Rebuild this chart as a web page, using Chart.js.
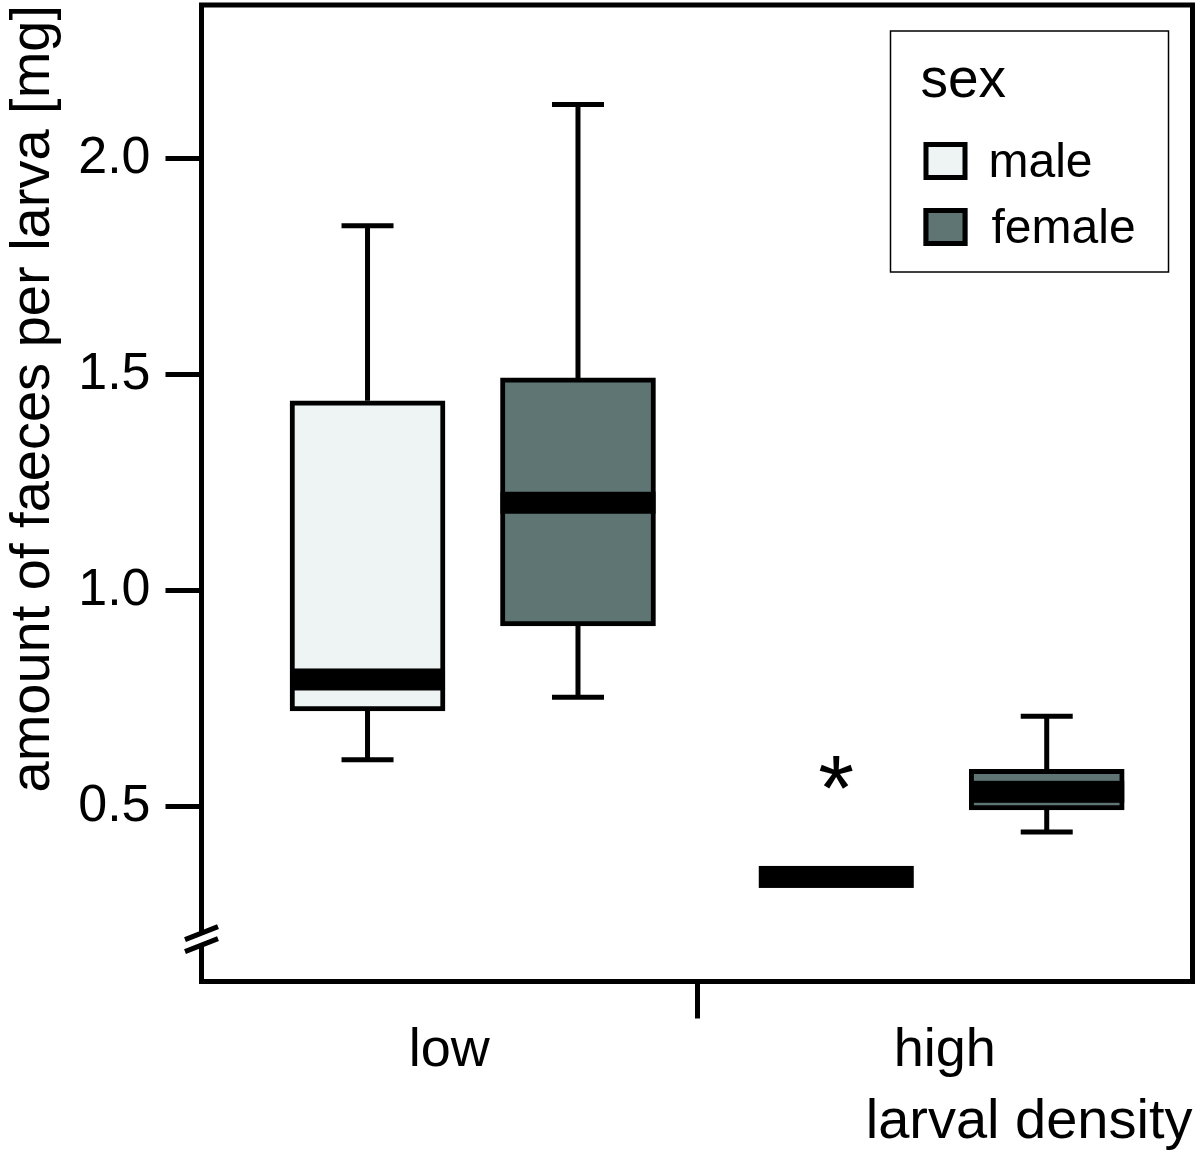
<!DOCTYPE html>
<html>
<head>
<meta charset="utf-8">
<script src="https://cdn.jsdelivr.net/npm/chart.js@4.4.0/dist/chart.umd.min.js"></script>
<style>
  html, body { margin: 0; padding: 0; background: #fff; }
</style>
</head>
<body>
<canvas id="faecesChart" width="1200" height="1156"></canvas>
<script>
const densities = ['low', 'high'];
const sexes = ['male', 'female'];

// five number summaries, one entry per density (low, high)
const maleMin = [0.608, 0.337];
const maleQ1 = [0.721, 0.337];
const maleMedian = [0.794, 0.337];
const maleQ3 = [1.439, 0.337];
const maleMax = [1.844, 0.337];

const femaleMin = [0.753, 0.441];
const femaleQ1 = [0.918, 0.492];
const femaleMedian = [1.203, 0.534];
const femaleQ3 = [1.492, 0.586];
const femaleMax = [2.125, 0.709];

// outliers as [density index, value]
const maleOutliers = [[1, 0.578]];
const femaleOutliers = [];

const yTicks = [0.5, 1.0, 1.5, 2.0];
const axisBreakAt = 0.193;

const FONT = '"Liberation Sans", Arial, Helvetica, sans-serif';
const sexColors = ['#eef4f3', '#5f7574'];
const sexOffset = [-0.2245, 0.2245];

function boxDataset(label, idx, mins, q1, med, q3, maxs, outliers) {
  return {
    label: label,
    xAxisID: 'xb',
    grouped: false,
    data: densities.map((d, i) => ({ x: i + sexOffset[idx], y: [q1[i], q3[i]] })),
    backgroundColor: sexColors[idx],
    borderColor: '#000',
    borderWidth: 5,
    borderSkipped: false,
    barThickness: 155,
    stats: { mins, med, q1, q3, maxs, outliers }
  };
}

const boxExtras = {
  id: 'boxExtras',
  beforeDatasetsDraw(chart) {
    const ctx = chart.ctx;
    const y = chart.scales.y;
    ctx.save();
    ctx.strokeStyle = '#000';
    ctx.lineWidth = 5;
    chart.data.datasets.forEach((ds, di) => {
      const s = ds.stats;
      chart.getDatasetMeta(di).data.forEach((bar, i) => {
        const x = bar.x;
        const pairs = [[s.q3[i], s.maxs[i]], [s.q1[i], s.mins[i]]];
        pairs.forEach(([from, to]) => {
          if (from === to) return;
          ctx.beginPath();
          ctx.moveTo(x, y.getPixelForValue(from));
          ctx.lineTo(x, y.getPixelForValue(to));
          ctx.moveTo(x - 26, y.getPixelForValue(to));
          ctx.lineTo(x + 26, y.getPixelForValue(to));
          ctx.stroke();
        });
      });
    });
    ctx.restore();
  },
  afterDatasetsDraw(chart) {
    const ctx = chart.ctx;
    const y = chart.scales.y;
    ctx.save();
    chart.data.datasets.forEach((ds, di) => {
      const s = ds.stats;
      const bars = chart.getDatasetMeta(di).data;
      bars.forEach((bar, i) => {
        const half = bar.width / 2;
        ctx.fillStyle = '#000';
        ctx.fillRect(bar.x - half, y.getPixelForValue(s.med[i]) - 11, half * 2, 22);
      });
      // outliers drawn as asterisks, centred on the value
      ctx.font = '92px ' + FONT;
      ctx.textAlign = 'center';
      ctx.textBaseline = 'alphabetic';
      s.outliers.forEach(([gi, v]) => {
        const m = ctx.measureText('*');
        const py = y.getPixelForValue(v);
        ctx.fillText('*', bars[gi].x, py + (m.actualBoundingBoxAscent - m.actualBoundingBoxDescent) / 2);
      });
    });
    ctx.restore();
  },
  afterDraw(chart) {
    const ctx = chart.ctx;
    const a = chart.chartArea;
    const y = chart.scales.y;
    ctx.save();
    // frame
    ctx.strokeStyle = '#000';
    ctx.lineWidth = 5;
    ctx.strokeRect(a.left, a.top, a.right - a.left, a.bottom - a.top);

    // axis break on the y axis
    const yb = y.getPixelForValue(axisBreakAt);
    const l = a.left;
    ctx.fillStyle = '#fff';
    ctx.beginPath();
    ctx.moveTo(l - 16.5, yb + 0.5);
    ctx.lineTo(l + 16.5, yb - 12.5);
    ctx.lineTo(l + 16.5, yb - 0.5);
    ctx.lineTo(l - 16.5, yb + 12.5);
    ctx.closePath();
    ctx.fill();
    ctx.beginPath();
    ctx.moveTo(l - 16.5, yb + 0.5);
    ctx.lineTo(l + 16.5, yb - 12.5);
    ctx.moveTo(l - 16.5, yb + 12.5);
    ctx.lineTo(l + 16.5, yb - 0.5);
    ctx.stroke();

    // legend
    const x0 = a.right - 302;
    const y0 = a.top + 26;
    ctx.lineWidth = 1.5;
    ctx.strokeRect(x0, y0, 278, 241);
    ctx.fillStyle = '#000';
    ctx.textAlign = 'left';
    ctx.textBaseline = 'alphabetic';
    ctx.font = '55px ' + FONT;
    ctx.fillText('sex', x0 + 30, y0 + 66);
    ctx.font = '48px ' + FONT;
    chart.data.datasets.forEach((ds, i) => {
      const top = y0 + 111 + i * 66;
      ctx.fillStyle = ds.backgroundColor;
      ctx.fillRect(x0 + 33, top, 44, 38);
      ctx.lineWidth = 5;
      ctx.strokeStyle = '#000';
      ctx.strokeRect(x0 + 35.5, top + 2.5, 39, 33);
      ctx.fillStyle = '#000';
      ctx.fillText(ds.label, x0 + 98 + i * 3, top + 35);
    });
    ctx.restore();
  }
};

new Chart(document.getElementById('faecesChart'), {
  type: 'bar',
  data: {
    datasets: [
      boxDataset(sexes[0], 0, maleMin, maleQ1, maleMedian, maleQ3, maleMax, maleOutliers),
      boxDataset(sexes[1], 1, femaleMin, femaleQ1, femaleMedian, femaleQ3, femaleMax, femaleOutliers)
    ]
  },
  options: {
    responsive: false,
    animation: false,
    layout: { padding: { top: 5, right: 7.5, left: 0, bottom: 0 } },
    plugins: {
      legend: { display: false },
      tooltip: { enabled: false }
    },
    scales: {
      x: {
        type: 'category',
        labels: densities,
        offset: true,
        afterFit: scale => {
          scale.height = 174.5;
          scale.paddingLeft = 0;
          scale.paddingRight = 0;
        },
        border: { display: false },
        grid: {
          offset: true,
          drawOnChartArea: false,
          tickLength: 37,
          tickWidth: 5,
          tickColor: c => (c.index === 1 ? '#000' : 'rgba(0,0,0,0)'),
          color: c => (c.index === 1 ? '#000' : 'rgba(0,0,0,0)')
        },
        ticks: { color: '#000', font: { family: FONT, size: 54 }, padding: 0 },
        title: {
          display: true,
          text: 'larval density',
          align: 'end',
          color: '#000',
          font: { family: FONT, size: 56 },
          padding: { top: 0, bottom: 0 }
        }
      },
      xb: {
        type: 'linear',
        display: false,
        offset: false,
        min: -0.5787,
        max: 1.5355
      },
      y: {
        min: 0.095,
        max: 2.355,
        afterFit: scale => {
          scale.width = 201.5;
          scale.paddingTop = 0;
          scale.paddingBottom = 0;
        },
        afterBuildTicks: scale => { scale.ticks = yTicks.map(v => ({ value: v })); },
        border: { display: false },
        grid: { drawOnChartArea: false, tickLength: 36, tickWidth: 5, color: '#000' },
        ticks: {
          color: '#000',
          padding: 15,
          font: { family: FONT, size: 52 },
          callback: v => v.toFixed(1)
        },
        title: {
          display: true,
          text: 'amount of faeces per larva [mg]',
          align: 'end',
          color: '#000',
          font: { family: FONT, size: 56 },
          padding: { top: 0, bottom: 0 }
        }
      }
    }
  },
  plugins: [boxExtras]
});
</script>
</body>
</html>
